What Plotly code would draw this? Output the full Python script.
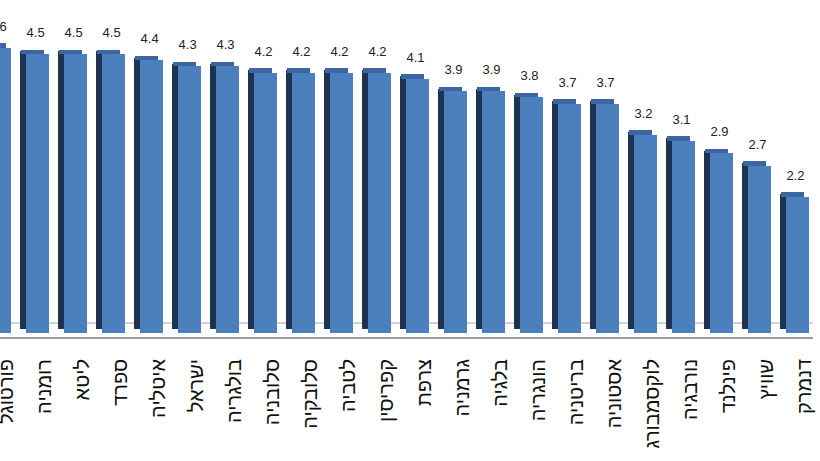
import plotly.graph_objects as go

countries = ["פורטוגל", "רומניה", "ליטא", "ספרד", "איטליה", "ישראל", "בולגריה",
             "סלובניה", "סלובקיה", "לטביה", "קפריסין", "צרפת", "גרמניה", "בלגיה",
             "הונגריה", "בריטניה", "אסטוניה", "לוקסמבורג", "נורבגיה", "פינלנד",
             "שוויץ", "דנמרק"]
values = [4.6, 4.5, 4.5, 4.5, 4.4, 4.3, 4.3, 4.2, 4.2, 4.2, 4.2, 4.1,
          3.9, 3.9, 3.8, 3.7, 3.7, 3.2, 3.1, 2.9, 2.7, 2.2]

pos = list(range(len(countries)))
front_w = 0.6
depth = 0.16   # fake 3d depth, in x units
lift = 0.07    # fake 3d depth, in y units

fig = go.Figure()

# dark left side of each bar
fig.add_trace(go.Bar(
    x=pos, y=[v - 0.03 for v in values], base=lift,
    width=depth, offset=-front_w / 2 - depth,
    marker=dict(color="#1E3352", line=dict(width=0)),
    hoverinfo="skip", showlegend=False,
))
# top face
fig.add_trace(go.Bar(
    x=pos, y=[lift] * len(values), base=values,
    width=front_w, offset=-front_w / 2 - depth + 0.03,
    marker=dict(color="#3B669F", line=dict(width=0)),
    hoverinfo="skip", showlegend=False,
))
# front face
fig.add_trace(go.Bar(
    x=pos, y=values, width=front_w, offset=-front_w / 2,
    marker=dict(color="#4B7FBE", line=dict(width=0)),
    showlegend=False,
))
# value labels (clipped to the plot so the cut-off first one still shows)
fig.add_trace(go.Scatter(
    x=[p - 0.05 for p in pos], y=[v + 0.22 for v in values],
    text=[f"{v:.1f}" for v in values], mode="text",
    textposition="top center",
    textfont=dict(family="Liberation Sans, Arial, sans-serif", size=13, color="#222222"),
    hoverinfo="skip", showlegend=False, cliponaxis=True,
))

# back edge of the floor
fig.add_shape(type="line", xref="paper", yref="y", x0=0, x1=1, y0=0.16, y1=0.16,
              line=dict(color="#A6A6A6", width=1), layer="below")

fig.update_layout(
    width=820, height=461,
    margin=dict(l=0, r=7, t=0, b=124),
    plot_bgcolor="white", paper_bgcolor="white",
    barmode="overlay", bargap=0,
    xaxis=dict(
        range=[0.013, 21.41],
        tickmode="array",
        tickvals=[p + 0.19 for p in pos],
        ticktext=countries,
        tickangle=-90,
        ticks="",
        ticklabelstandoff=12,
        ticklabeloverflow="allow",
        automargin=False,
        tickfont=dict(family="Liberation Sans, Arial, sans-serif", size=20, color="#111111"),
        showgrid=False, zeroline=False,
        showline=True, linecolor="#9C9C9C", linewidth=2,
    ),
    yaxis=dict(range=[-0.065, 5.37], visible=False, showgrid=False, zeroline=False),
)

# page margin off so the figure sits at the window's corner
fig.write_html("out.html", config={"displayModeBar": False},
               post_script="document.body.style.margin='0';")
